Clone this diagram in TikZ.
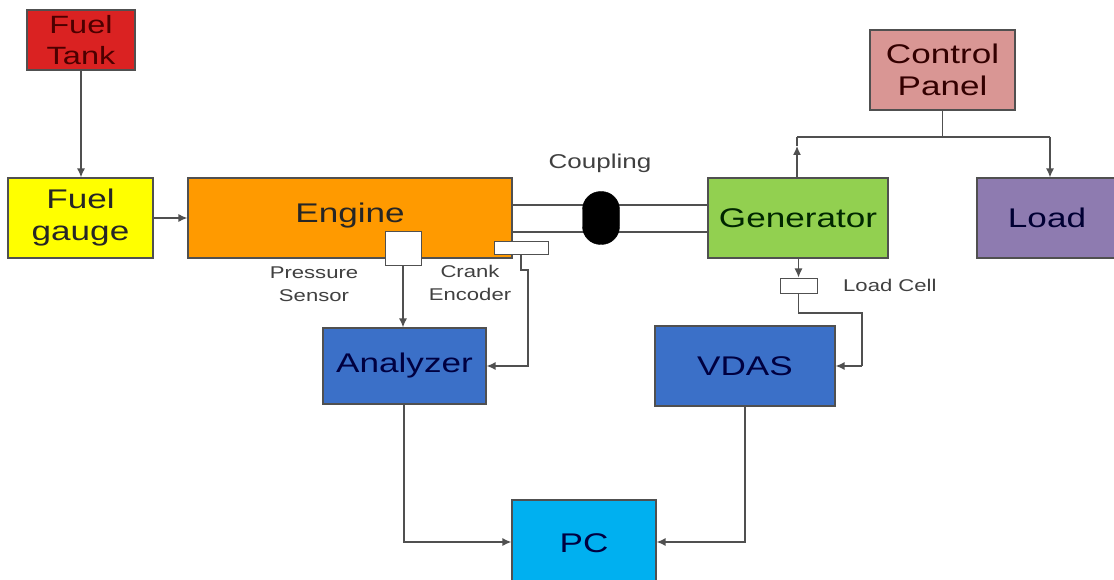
\documentclass[tikz,border=0pt]{standalone}
\usepackage{fontspec}
\setmainfont{Liberation Sans}[FakeStretch=1.3]
\usetikzlibrary{arrows.meta}
\definecolor{tankred}{HTML}{DA2222}
\definecolor{gaugeyel}{HTML}{FFFF00}
\definecolor{engor}{HTML}{FF9A00}
\definecolor{gengreen}{HTML}{92D050}
\definecolor{loadpur}{HTML}{8E7BB0}
\definecolor{cppink}{HTML}{D99694}
\definecolor{blk}{HTML}{3B70C8}
\definecolor{pcblue}{HTML}{00B0F0}
\definecolor{linegray}{HTML}{505050}
\definecolor{labgray}{HTML}{404040}
\tikzset{
  blockbox/.style={draw=linegray, line width=1.2pt, rectangle, inner sep=0pt, align=center,
    font=\fontsize{27}{32}\selectfont, text=black!85},
  sensbox/.style={draw=linegray, line width=1pt, fill=white, rectangle, inner sep=0pt},
  conn/.style={draw=linegray, line width=1.3pt},
  arr/.style={conn, -{Latex[length=9pt,width=8pt]}},
  lab/.style={font=\fontsize{17}{23}\selectfont, text=labgray, align=center, inner sep=0pt},
}
\begin{document}
\begin{tikzpicture}[x=1pt, y=-1pt]
\useasboundingbox (0,0) rectangle (1114,580);
% blocks
\node[blockbox, fill=tankred, minimum width=108pt, minimum height=60pt, text=red!30!black,
  font=\fontsize{25}{31}\selectfont] (tank) at (81,40) {Fuel\\Tank};
\node[blockbox, fill=gaugeyel, minimum width=145pt, minimum height=80pt] (gauge) at (80.5,218) {Fuel\\gauge};
\node[blockbox, fill=engor, minimum width=324pt, minimum height=80pt] (engine) at (350,218) {};
\node[font=\fontsize{27}{32}\selectfont, text=black!85] (enginetxt) at (350,216) {Engine};
\node[blockbox, fill=gengreen, minimum width=180pt, minimum height=80pt, text=green!15!black] (gen) at (798,218) {Generator};
\node[blockbox, fill=loadpur, minimum width=140pt, minimum height=80pt, text=blue!20!black] (load) at (1047,218) {Load};
\node[blockbox, fill=cppink, minimum width=145pt, minimum height=80pt, text=red!20!black] (cp) at (942.5,70) {Control\\Panel};
\node[blockbox, fill=blk, minimum width=163pt, minimum height=76pt, text=blue!25!black] (ana) at (404.5,366) {Analyzer};
\node[blockbox, fill=blk, minimum width=180pt, minimum height=80pt, text=blue!25!black] (vdas) at (745,366) {VDAS};
\node[blockbox, fill=pcblue, minimum width=144pt, minimum height=86pt, text=blue!25!black] (pc) at (584,543) {PC};
% coupling shafts
\draw[conn] (engine.east |- 0,205) -- (gen.west |- 0,205);
\draw[conn] (engine.east |- 0,232) -- (gen.west |- 0,232);
\node[fill=black, draw=black, rounded corners=18pt, minimum width=37pt, minimum height=53pt, inner sep=0pt] (coup) at (601,218) {};
\node[font=\fontsize{20}{24}\selectfont, text=labgray, inner sep=0pt] (couplab) at (600,163) {Coupling};
% sensors
\node[sensbox, minimum width=36pt, minimum height=34pt] (ps) at (403,249) {};
\node[sensbox, minimum width=54pt, minimum height=13pt] (ce) at (521,248.5) {};
\node[sensbox, minimum width=37pt, minimum height=15pt] (lc) at (798.5,285.5) {};
\node[lab] (pslab) at (314,284) {Pressure\\Sensor};
\node[lab] (celab) at (470,283) {Crank\\Encoder};
\node[lab, anchor=west] (lclab) at (843,285) {Load Cell};
% connectors
\draw[arr] (tank.south) -- (tank.south |- gauge.north);
\draw[arr] (gauge.east) -- (engine.west);
\draw[arr] (ps.south) -- (ps.south |- ana.north);
\coordinate (ce1) at (521,270);
\coordinate (ce2) at (528,270);
\coordinate (ce3) at (528,366);
\draw[arr] (ce.south -| ce1) -- (ce1) -- (ce2) -- (ce3) -- (ana.east |- ce3);
\coordinate (a1) at (404,542);
\draw[arr] (ana.south -| a1) -- (a1) -- (pc.west |- a1);
\coordinate (v1) at (745,542);
\draw[arr] (vdas.south -| v1) -- (v1) -- (pc.east |- v1);
\draw[arr] (gen.south -| lc.north) -- (lc.north);
\coordinate (l1) at (798.5,313);
\coordinate (l2) at (862,313);
\coordinate (l3) at (862,366);
\draw[conn] (lc.south) -- (l1) -- (l2) -- (l3);
\draw[arr] (l3) -- (vdas.east |- l3);
% control panel
\coordinate (cj) at (942.5,137);
\coordinate (cl) at (797,137);
\coordinate (cr) at (1050,137);
\coordinate (cm) at (797,146);
\draw[conn] (cp.south) -- (cj);
\draw[conn] (cl) -- (cr);
\draw[arr] (cr) -- (cr |- load.north);
\draw[arr] (gen.north -| cl) -- (cm);
\draw[conn] (cm) -- (cl);
\end{tikzpicture}
\end{document}
